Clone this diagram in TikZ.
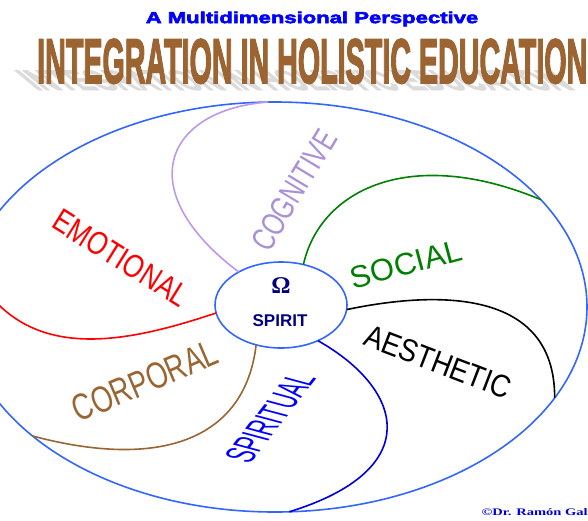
\documentclass[tikz,border=0pt]{standalone}
\usepackage{fontspec}
\setmainfont{Liberation Serif}
\setsansfont{Liberation Sans}
\newfontfamily\heavyfont[FakeBold=3]{Liberation Sans}
\usetikzlibrary{shapes.geometric}

\definecolor{rimblue}{RGB}{51,102,255}
\definecolor{titlebrown}{RGB}{156,100,48}
\definecolor{cogline}{RGB}{187,153,238}
\definecolor{cogtext}{RGB}{170,145,215}
\definecolor{socgreen}{RGB}{0,128,0}
\definecolor{spiline}{RGB}{0,0,221}
\definecolor{corbrown}{RGB}{153,102,51}
\definecolor{spinavy}{RGB}{0,0,128}

\tikzset{
  rim/.style={draw=rimblue, line width=1.6pt, ellipse, inner sep=0pt, outer sep=0pt},
  petal/.style={line width=1.6pt},
  dimlabel/.style={inner sep=0pt, font=\sffamily\fontsize{#1}{#1}\selectfont},
}

\begin{document}
\begin{tikzpicture}[x=1pt,y=-1pt]
    \useasboundingbox (0,0) rectangle (588,520);
    \clip (0,0) rectangle (588,520);
    \fill[white] (0,0) rectangle (588,520);
    % headings
    \node[text=blue, font=\heavyfont\bfseries\fontsize{16}{16}\selectfont, xscale=1.38] (subtitle) at (312,19) {A Multidimensional Perspective};
    \node[anchor=base west, inner sep=0pt, text=gray!28, xslant=-1.2, yscale=0.45] (shadow) at (36,90) {\resizebox{540pt}{44pt}{\heavyfont\bfseries INTEGRATION IN HOLISTIC EDUCATION}};
    \node[anchor=base west, inner sep=0pt, text=titlebrown] (title) at (37,83) {\resizebox{550pt}{44pt}{\heavyfont\bfseries INTEGRATION IN HOLISTIC EDUCATION}};
    % the whole and the centre
    \node[rim, minimum width=624pt, minimum height=410pt] (whole) at (275,307) {};
    \node[rim, minimum width=132pt, minimum height=86pt] (spirit) at (281,305) {};
    \node[text=spinavy, font=\bfseries\fontsize{24}{24}\selectfont] (omega) at (281,286) {Ω};
    \node[text=spinavy, font=\sffamily\bfseries\fontsize{17}{17}\selectfont] (spiritword) at (280,321) {SPIRIT};
    % dividing lines
    \draw[petal, cogline] (spirit.142) .. controls (130,190) and (165,110) .. (whole.92);
    \draw[petal, socgreen] (spirit.61) .. controls (320,190) and (410,145) .. (whole.22);
    \draw[petal, black] (spirit.-4) .. controls (440,290) and (555,290) .. (whole.-18);
    \draw[petal, spiline] (spirit.-44) .. controls (405,390) and (425,470) .. (whole.-86);
    \draw[petal, corbrown] (spirit.-122) .. controls (245,440) and (160,470) .. (whole.208);
    \draw[petal, red] (spirit.187) .. controls (120,345) and (20,365) .. (whole.172);
    % dimensions
    \node[dimlabel=26, text=red, rotate=-32, yscale=1.25] (emotional) at (121,258) {EMOTIONAL};
    \node[dimlabel=24.5, text=cogtext, rotate=59, yscale=1.35] (cognitive) at (294,190) {COGNITIVE};
    \node[dimlabel=31, text=socgreen, rotate=15] (social) at (406,264) {SOCIAL};
    \node[dimlabel=27.5, text=black, rotate=-21, yscale=1.15] (aesthetic) at (438,362) {AESTHETIC};
    \node[dimlabel=27.5, text=corbrown, rotate=23, yscale=1.35] (corporal) at (145,381) {CORPORAL};
    \node[dimlabel=19.5, text=blue, rotate=75, yslant=-0.42, yscale=2.05] (spiritual) at (270,418) {SPIRITUAL};
    \node[anchor=east, inner sep=0pt, text=spiline, font=\rmfamily\bfseries\fontsize{10}{10}\selectfont, xscale=1.45] (credit) at (588,512) {©Dr. Ramón Gal};
\end{tikzpicture}
\end{document}
